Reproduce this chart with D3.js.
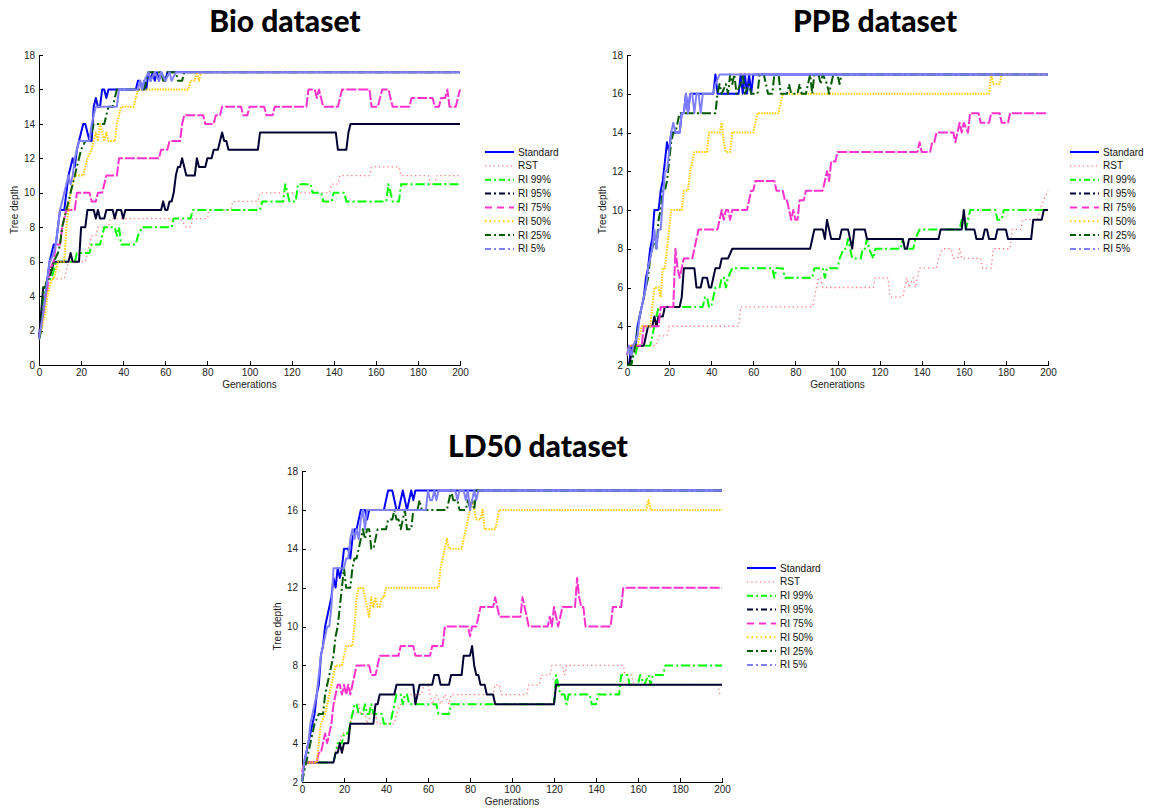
<!DOCTYPE html>
<html>
<head>
<meta charset="utf-8">
<script src="https://cdn.jsdelivr.net/npm/d3@7/dist/d3.min.js"></script>
<style>
  html, body { margin: 0; padding: 0; background: #ffffff; }
  svg { display: block; }
  .tick text { font-family: "Liberation Sans", Arial, sans-serif; font-size: 10px; fill: #222; }
  .axis path, .axis line { stroke: #000; stroke-width: 1; shape-rendering: crispEdges; }
  .axis-title { font-family: "Liberation Sans", Arial, sans-serif; font-size: 10px; fill: #222; }
  .panel-title { font-family: Lato, "Open Sans", sans-serif; font-weight: 900; font-size: 30px; fill: #000; }
  .legend text { font-family: "Liberation Sans", Arial, sans-serif; font-size: 10px; fill: #111; }
</style>
</head>
<body>
<svg id="chart" width="1151" height="809"></svg>
<script>
// ---- Series labels and axis ticks ----
const seriesNames = ["Standard", "RST", "RI 99%", "RI 95%", "RI 75%", "RI 50%", "RI 25%", "RI 5%"];
const generationTicks = [0, 20, 40, 60, 80, 100, 120, 140, 160, 180, 200];
const bioDepthTicks = [0, 2, 4, 6, 8, 10, 12, 14, 16, 18];
const depthTicks = [2, 4, 6, 8, 10, 12, 14, 16, 18];

// ---- Bio dataset: [generation, tree depth] ----
const bioStandard = [[0,1.5],[1,2.5],[2,3],[3,4],[4,5],[5,6],[6,6.5],[7,7],[8,7],[9,8],[10,9],[12,9],[13,10],[14,11],[15,11.5],[16,12],[17,11.5],[18,12.5],[19,13],[21,14],[22,14],[23,13.5],[24,13],[25,13],[26,15],[27,15.5],[28,15],[29,15],[30,16],[31,16],[32,15.5],[33,16],[46,16],[47,16.5],[48,16.5],[49,16],[50,16.5],[51,16],[52,17],[53,16.5],[54,17],[55,16.5],[56,17],[57,16.5],[58,17],[60,16.5],[61,17],[200,17]];
const bioRST = [[0,1.5],[2,3],[3,4],[4,4.5],[5,5],[6,5.5],[7,5],[12,5],[13,5.5],[14,6],[22,6],[23,6.5],[24,7],[25,7.5],[27,7.5],[28,8],[33,8],[34,8.5],[67,8.5],[70,8],[72,8],[73,8.5],[80,8.5],[81,9],[91,9],[92,9.5],[104,9.5],[105,10],[138,10],[139,10.5],[142,10.5],[143,11],[157,11],[158,11.5],[171,11.5],[172,11],[185,11],[186,10.5],[188,10.5],[189,11],[200,11]];
const bioRI99 = [[0,1.5],[1,2],[2,4],[3,4.5],[4,5],[6,5],[7,5.5],[8,6],[17,6],[18,6.5],[24,6.5],[25,7],[29,7],[30,7.5],[31,8],[36,8],[37,7.5],[38,8],[39,7],[46,7],[47,7.5],[49,8],[63,8],[64,8.5],[72,8.5],[73,9],[105,9],[106,9.5],[116,9.5],[117,10.5],[118,10],[119,9.5],[122,9.5],[123,10.5],[129,10.5],[130,10],[134,10],[135,9.5],[139,9.5],[140,10],[145,10],[146,9.5],[165,9.5],[166,10.5],[167,10],[168,9.5],[171,9.5],[172,10.5],[200,10.5]];
const bioRI95 = [[0,1.5],[1,3],[2,4.5],[3,4.5],[4,5],[5,5.5],[6,5.5],[7,6],[14,6],[15,6.5],[16,6],[19,6],[20,8],[22,8],[23,9],[26,9],[27,8.5],[28,9],[29,8.5],[31,8.5],[32,9],[35,9],[36,8.5],[37,9],[39,9],[40,8.5],[41,9],[58,9],[59,9.5],[60,9],[61,9],[62,9.5],[63,9.5],[64,10],[65,11],[66,11.5],[67,11.5],[68,12],[69,11.5],[70,11],[74,11],[75,12],[76,11.5],[79,11.5],[80,12],[82,12],[83,12.5],[85,12.5],[86,13],[87,13.5],[88,13],[89,13],[90,12.5],[104,12.5],[105,13.5],[141,13.5],[142,12.5],[146,12.5],[147,13.5],[148,14],[200,14]];
const bioRI75 = [[0,1.5],[2,3],[4,4.5],[5,5.5],[7,6],[8,7],[10,7],[11,8],[12,8.5],[13,9],[17,9],[18,10],[24,10],[25,9.5],[27,9.5],[28,10],[30,10],[31,10.5],[32,11],[37,11],[38,12],[57,12],[58,12.5],[61,12.5],[62,13],[67,13],[68,14],[69,14.5],[78,14.5],[79,14],[83,14],[84,14.5],[86,14.5],[87,15],[96,15],[97,14.5],[99,14.5],[100,15],[107,15],[108,14.5],[111,14.5],[112,15],[127,15],[128,16],[131,16],[132,15.5],[133,16],[134,15.5],[135,15],[142,15],[144,16],[157,16],[158,15],[161,15],[163,16],[166,16],[168,15],[176,15],[177,15.5],[187,15.5],[188,15],[190,15],[191,15.5],[193,15.5],[194,16],[195,15],[198,15],[199,15.5],[200,16]];
const bioRI50 = [[0,1.5],[2,2.5],[3,3],[4,4],[5,4.5],[6,5],[7,5],[8,5.5],[9,6],[12,6],[13,8],[14,9],[15,10],[16,10.5],[17,11],[21,11],[22,11.5],[23,12],[25,12.5],[26,13],[27,13.5],[28,13],[29,14],[30,13.5],[31,13],[32,13.5],[33,13],[36,13],[37,14],[38,14.5],[39,15],[45,15],[46,15.5],[47,16],[71,16],[72,16.5],[74,16.5],[75,17],[76,16.5],[77,17],[200,17]];
const bioRI25 = [[0,1.5],[1,2],[2,4.5],[3,4.5],[4,5],[5,5],[6,5.5],[7,6],[9,6.5],[10,7],[11,8],[12,8.5],[13,9],[14,9.5],[15,10],[16,10.5],[18,11.5],[20,12.5],[22,13],[24,13],[25,13.5],[26,14],[31,14],[32,14.5],[33,15],[35,15],[36,15.5],[37,16],[50,16],[51,16.5],[52,17],[58,17],[59,16.5],[60,16.5],[61,17],[65,17],[66,16.5],[68,16.5],[69,17],[200,17]];
const bioRI5 = [[0,1.5],[2,3],[4,5],[5,6],[6,6.2],[7,6.5],[8,7],[10,9],[11,9.5],[12,10],[13,10.5],[14,11],[15,10.5],[16,11],[17,12],[18,12.5],[19,13],[24,13],[25,14],[26,14.5],[27,15],[37,15],[38,16],[47,16],[48,16.5],[49,16],[50,16.5],[52,17],[53,16.5],[55,17],[57,16.5],[58,17],[60,16.5],[62,17],[63,16.5],[65,17],[200,17]];

// ---- PPB dataset ----
const ppbStandard = [[0,2],[1,2],[2,3],[4,3],[5,4],[6,4.5],[7,5],[8,5.5],[9,6.5],[10,7],[11,8],[12,8.5],[13,10],[15,10],[16,11],[17,11.5],[18,12.5],[19,13.5],[20,13],[21,14],[25,14],[26,15],[27,15],[28,16],[29,15],[30,16],[41,16],[42,17],[43,16],[53,16],[54,17],[55,16],[56,17],[57,16],[58,17],[59,16],[60,17],[200,17]];
const ppbRST = [[0,2.5],[1,3],[14,3],[15,3.5],[19,3.5],[20,4],[53,4],[54,5],[88,5],[89,5.5],[90,6],[91,6.5],[92,6.5],[93,6],[117,6],[118,6.5],[124,6.5],[125,5.5],[131,5.5],[132,6],[133,6.5],[134,6],[136,6.5],[137,6],[138,6.5],[139,7],[147,7],[148,7.5],[150,8],[154,8],[155,7.5],[157,7.5],[158,8],[159,7.5],[168,7.5],[169,7],[173,7],[174,8],[182,8],[183,9],[187,9],[188,9.5],[195,9.5],[196,10],[198,10.5],[200,11]];
const ppbRI99 = [[0,2],[2,2],[3,2.5],[4,2.5],[5,3],[11,3],[12,3.5],[13,4],[14,4.5],[15,5],[36,5],[37,5.5],[38,5.5],[39,5],[40,5],[41,5.5],[42,6],[44,6],[45,6.5],[46,6.5],[47,6],[48,6.5],[50,7],[69,7],[70,6.5],[71,7],[74,7],[75,6.5],[88,6.5],[89,7],[93,7],[94,6.5],[95,7],[100,7],[101,7.5],[103,8],[104,8],[105,8.5],[106,8],[107,7.5],[111,7.5],[112,8],[113,8],[114,8.5],[115,8],[117,7.5],[118,8],[130,8],[131,8.5],[132,8],[136,8],[137,8.5],[139,9],[158,9],[159,9.5],[160,9.5],[161,9],[162,9.5],[163,10],[175,10],[176,9.5],[178,9.5],[179,10],[200,10]];
const ppbRI95 = [[0,2],[1,2],[2,2.5],[3,3],[8,3],[9,3.5],[10,4],[12,4],[13,4.5],[14,4],[15,4.5],[17,4.5],[18,5],[25,5],[26,5.5],[27,7],[32,7],[33,6],[35,6],[36,6.5],[38,6.5],[39,6],[40,6],[41,6.5],[42,7],[44,7],[45,7.5],[48,7.5],[50,8],[87,8],[88,8.5],[89,9],[93,9],[94,8.5],[95,9.5],[96,9],[97,8.5],[101,8.5],[102,9],[105,9],[107,8],[108,9],[113,9],[114,8.5],[131,8.5],[132,8],[133,8],[134,8.5],[148,8.5],[149,9],[159,9],[160,10],[161,9],[165,9],[166,8.5],[169,8.5],[170,9],[171,9],[172,8.5],[175,8.5],[176,9],[180,9],[181,8.5],[192,8.5],[193,9.5],[197,9.5],[198,10],[200,10]];
const ppbRI75 = [[0,2.5],[1,3],[7,3],[8,4],[15,4],[16,5],[22,5],[23,8],[24,7],[25,6.5],[26,7],[27,7.5],[31,7.5],[32,8],[33,8.5],[34,9],[43,9],[44,9.5],[45,10],[46,9.5],[47,10],[48,10],[49,9.5],[50,10],[57,10],[58,10.5],[59,11],[60,11],[61,11.5],[70,11.5],[71,11],[74,11],[75,10.5],[76,10.5],[77,10],[78,9.5],[79,10],[80,9.5],[81,9.5],[82,10.5],[84,10.5],[85,11],[93,11],[94,11.5],[95,12],[96,11.5],[97,12.5],[99,12.5],[100,13],[138,13],[139,13.5],[140,13],[144,13],[145,13.5],[146,13.5],[147,14],[155,14],[156,13.5],[157,14],[158,14.5],[159,14],[160,14.5],[162,14],[163,15],[167,15],[168,14.5],[172,14.5],[173,15],[177,15],[178,14.5],[181,14.5],[182,15],[200,15]];
const ppbRI50 = [[0,2.5],[1,3],[5,3],[6,3.5],[7,4],[11,4],[12,5],[13,6],[15,6],[16,5.5],[17,7],[18,7],[19,8],[20,9],[21,10],[26,10],[27,11],[29,11],[30,12],[31,12.5],[32,13],[38,13],[39,14],[44,14],[45,14.5],[46,13.5],[47,13],[49,13],[50,14],[60,14],[61,14.5],[62,15],[72,15],[73,15.5],[74,16],[172,16],[173,17],[174,16.5],[177,16.5],[178,17],[200,17]];
const ppbRI25 = [[0,2],[2,2],[3,2.5],[4,3],[6,4.5],[8,5.5],[9,6],[10,6.5],[11,7.5],[12,8],[13,8.5],[14,8],[15,9.5],[16,10],[17,11],[18,11],[19,11.5],[20,12.5],[21,13.5],[22,14],[23,14],[24,14.5],[25,15],[42,15],[43,16],[44,16.5],[45,16],[47,16.5],[48,16],[49,17],[50,16.5],[51,17],[52,16],[54,16.5],[55,17],[56,16],[58,16.5],[59,16],[62,16],[63,17],[65,17],[66,16.5],[67,16],[69,16],[70,17],[72,17],[73,16],[76,16],[77,16.5],[78,16],[81,16],[82,16.5],[83,16],[85,16],[86,16.5],[87,17],[88,16],[89,17],[91,17],[92,16.5],[93,17],[95,16.5],[96,16],[97,16.5],[98,17],[100,17],[101,16.5],[102,17],[200,17]];
const ppbRI5 = [[0,2.5],[1,3],[2,2.5],[3,3],[5,3.5],[6,4.5],[7,5],[9,6],[10,7],[11,7.5],[12,8],[13,9],[14,8],[15,9],[16,9],[17,10.5],[18,12],[19,12],[20,13],[21,14],[22,14.5],[23,14],[25,14],[26,15],[27,15],[28,16],[29,15],[30,16],[31,16],[32,15],[33,16],[34,16],[35,15],[36,16],[41,16],[42,16.5],[44,17],[200,17]];

// ---- LD50 dataset ----
const ld50Standard = [[0,2],[1,3],[2,3.5],[3,4],[4,4.5],[5,5],[6,5.5],[7,6.5],[8,7],[9,8.5],[10,9],[11,10],[12,10.5],[13,11],[14,11.5],[15,12.5],[16,12],[17,13],[18,12.5],[19,13],[20,14],[22,14],[23,13.5],[24,14.5],[25,15],[26,15],[27,15.5],[28,16],[30,16],[31,15.5],[32,16],[39,16],[40,16.5],[41,17],[43,17],[44,16.5],[45,16],[46,16],[47,16.5],[48,17],[49,16.5],[50,16],[51,16.5],[52,17],[53,16.5],[54,17],[200,17]];
const ld50RST = [[0,2],[1,3],[15,3],[16,3.5],[17,4],[18,4],[19,4.5],[22,4.5],[23,5],[24,5.5],[26,5.5],[27,6],[28,5.5],[30,5.5],[31,5],[33,5.5],[35,5.5],[36,5],[44,5],[45,5.5],[47,6],[49,6.5],[57,6.5],[58,7],[60,7],[61,6.5],[62,6],[64,6.5],[66,6],[68,6.5],[70,6],[71,6.5],[91,6.5],[92,7],[94,7],[95,6.5],[107,6.5],[108,7],[113,7],[114,7.5],[118,7.5],[119,8],[124,8],[125,7.5],[126,8],[153,8],[154,7.5],[157,7.5],[158,7],[198,7],[199,6.5],[200,6.5]];
const ld50RI99 = [[0,2],[1,3],[15,3],[16,3.5],[17,4],[19,4],[20,4.5],[22,4.5],[23,5],[24,5.5],[25,6],[26,6],[27,5.5],[29,5.5],[30,6],[31,5.5],[32,5.5],[33,6],[34,5.5],[38,5.5],[39,5],[42,5],[43,5.5],[44,6],[45,6.5],[47,6.5],[48,6],[49,6.5],[50,6.5],[51,6],[64,6],[65,5.5],[70,5.5],[71,6],[120,6],[121,7.5],[122,7],[123,6.5],[125,6.5],[126,6],[127,6.5],[137,6.5],[138,6],[140,6],[141,6.5],[151,6.5],[152,7.5],[155,7.5],[156,7],[160,7],[161,7.5],[163,7],[165,7.5],[166,7],[167,7.5],[172,7.5],[173,8],[200,8]];
const ld50RI95 = [[0,2],[1,3],[15,3],[16,3.5],[17,3.5],[18,4],[19,3.5],[20,4],[22,4],[23,5],[34,5],[35,6],[36,6],[37,6.5],[44,6.5],[45,7],[53,7],[54,6],[55,6.5],[56,7],[62,7],[63,7.5],[65,7.5],[66,7],[70,7],[71,7.5],[76,7.5],[77,8.5],[80,8.5],[81,9],[82,8],[83,7.5],[84,7.5],[85,7],[87,7],[88,6.5],[91,6.5],[92,6],[120,6],[121,7],[200,7]];
const ld50RI75 = [[0,2.5],[1,3],[7,3],[8,3.5],[9,3.5],[10,4],[11,4.5],[12,4],[13,4.5],[14,5],[15,6],[16,6.5],[17,7],[18,7],[19,6.5],[20,7],[21,6.5],[22,7],[23,6.5],[24,7],[25,7.5],[26,8],[32,8],[33,7.5],[35,7.5],[36,8],[37,8.5],[46,8.5],[47,9],[53,9],[54,8.5],[61,8.5],[62,9],[67,9],[68,10],[79,10],[80,9.5],[81,10],[83,10],[84,10.5],[85,11],[91,11],[92,11.5],[93,11],[94,10.5],[104,10.5],[105,11.5],[106,11],[107,10.5],[108,10],[117,10],[118,10.5],[119,10],[120,11],[121,10.5],[122,10],[123,10.5],[124,11],[130,11],[131,12.5],[132,11.5],[133,11],[134,11],[135,10],[147,10],[148,11],[152,11],[153,12],[200,12]];
const ld50RI50 = [[0,2],[1,3],[7,3],[8,4],[9,5],[11,5.5],[12,6],[13,6.5],[14,7],[15,7.5],[16,8],[19,8],[20,8.5],[21,9],[24,9],[25,10],[26,11.5],[27,12],[29,12],[30,11.5],[31,11],[32,10.5],[33,11.5],[34,11],[35,11.5],[36,11],[37,11],[38,11.5],[39,11.5],[40,12],[65,12],[66,13],[67,13.5],[68,14],[69,14.5],[70,14],[76,14],[77,14.5],[78,15],[79,15.5],[80,16],[81,16.5],[82,16],[83,15.5],[85,15.5],[86,16],[87,15],[92,15],[93,15.5],[94,16],[164,16],[165,16.5],[166,16],[200,16]];
const ld50RI25 = [[0,2],[1,2.5],[2,3],[3,3.5],[4,4],[5,4.5],[6,5],[8,5.5],[10,5.5],[11,6.5],[12,7],[13,7.5],[14,8],[15,8.5],[16,9.5],[17,10],[18,11],[19,12],[20,13],[21,12],[23,12],[24,13],[25,13.5],[26,13.5],[27,14],[28,14.5],[29,15],[30,14.5],[31,15],[32,15],[33,14],[34,14],[35,14.5],[36,15],[40,15],[41,15.5],[43,15.5],[44,16],[45,15.5],[46,15.5],[47,15],[48,15.5],[49,16],[50,15],[52,15],[53,16],[55,16],[56,16.5],[57,16],[69,16],[70,16.5],[71,17],[72,16.5],[74,16.5],[75,16],[78,16],[79,16.5],[80,16],[81,16.5],[82,16],[83,17],[200,17]];
const ld50RI5 = [[0,2],[1,3],[2,3.5],[3,4],[4,5],[5,5.5],[6,6],[7,6.5],[8,7.5],[9,8.5],[10,9],[11,9.5],[12,10],[13,10],[14,11],[15,13],[20,13],[21,13.5],[22,13.5],[23,14.5],[24,15],[25,14.5],[26,15],[27,14.5],[28,15.5],[29,16],[30,15],[31,16],[59,16],[60,17],[61,16.5],[62,16.5],[63,17],[64,16.5],[65,17],[73,17],[74,16.5],[75,17],[77,17],[78,16.5],[79,17],[80,16],[81,16.5],[82,17],[83,16.5],[84,17],[200,17]];

// ---- Line appearance per series (plot stroke / legend stroke) ----
const seriesStyles = [
  { color: "#0000ff", width: 2,   dash: null,        legendDash: null },
  { color: "#ff7b7b", width: 1.3, dash: "1.3,3",     legendDash: "1.3,3" },
  { color: "#00ff00", width: 2,   dash: "9,3,2,3",   legendDash: "6,3,2,3" },
  { color: "#000033", width: 2,   dash: null,        legendDash: "6,3,2,3" },
  { color: "#ff33cc", width: 2,   dash: "10,2",      legendDash: "7,5" },
  { color: "#ffcc00", width: 2,   dash: "1.5,1.2",   legendDash: "1.5,3" },
  { color: "#005a00", width: 2,   dash: "9,3,2,3",   legendDash: "6,3,2,3" },
  { color: "#8080ff", width: 2,   dash: null,        legendDash: "6,3,2,3" }
];

const panels = [
  { title: "Bio dataset", titleX: 285, titleY: 32,
    x0: 39, x1: 460, yTop: 55, yBottom: 365, yDomain: [0, 18], yTicks: bioDepthTicks,
    legendX: 485, legendY: 152,
    series: [bioStandard, bioRST, bioRI99, bioRI95, bioRI75, bioRI50, bioRI25, bioRI5] },
  { title: "PPB dataset", titleX: 875, titleY: 32,
    x0: 627, x1: 1048, yTop: 55, yBottom: 365, yDomain: [2, 18], yTicks: depthTicks,
    legendX: 1070, legendY: 152,
    series: [ppbStandard, ppbRST, ppbRI99, ppbRI95, ppbRI75, ppbRI50, ppbRI25, ppbRI5] },
  { title: "LD50 dataset", titleX: 538, titleY: 457,
    x0: 302, x1: 722, yTop: 471, yBottom: 782, yDomain: [2, 18], yTicks: depthTicks,
    legendX: 747, legendY: 568,
    series: [ld50Standard, ld50RST, ld50RI99, ld50RI95, ld50RI75, ld50RI50, ld50RI25, ld50RI5] }
];

const svg = d3.select("#chart");

panels.forEach(p => {
  const g = svg.append("g");
  const x = d3.scaleLinear().domain([0, 200]).range([p.x0, p.x1]);
  const y = d3.scaleLinear().domain(p.yDomain).range([p.yBottom, p.yTop]);

  // title
  g.append("text").attr("class", "panel-title")
    .attr("x", p.titleX).attr("y", p.titleY)
    .attr("text-anchor", "middle").text(p.title);

  // axes with inward ticks
  g.append("g").attr("class", "axis")
    .attr("transform", `translate(0,${p.yBottom})`)
    .call(d3.axisBottom(x).tickValues(generationTicks).tickFormat(d3.format("d"))
      .tickSizeInner(-4).tickSizeOuter(0).tickPadding(4));
  g.append("g").attr("class", "axis")
    .attr("transform", `translate(${p.x0},0)`)
    .call(d3.axisLeft(y).tickValues(p.yTicks).tickFormat(d3.format("d"))
      .tickSizeInner(-4).tickSizeOuter(0).tickPadding(4));

  g.append("text").attr("class", "axis-title")
    .attr("x", (p.x0 + p.x1) / 2).attr("y", p.yBottom + 23)
    .attr("text-anchor", "middle").text("Generations");
  g.append("text").attr("class", "axis-title")
    .attr("transform", `translate(${p.x0 - 21},${(p.yTop + p.yBottom) / 2}) rotate(-90)`)
    .attr("text-anchor", "middle").text("Tree depth");

  // series lines
  const line = d3.line().x(d => x(d[0])).y(d => y(d[1]));
  p.series.forEach((data, i) => {
    const s = seriesStyles[i];
    g.append("path").datum(data)
      .attr("d", line)
      .attr("fill", "none")
      .attr("stroke", s.color)
      .attr("stroke-width", s.width)
      .attr("stroke-linejoin", "round")
      .attr("stroke-dasharray", s.dash);
  });

  // legend
  const lg = g.append("g").attr("class", "legend");
  seriesNames.forEach((name, i) => {
    const s = seriesStyles[i];
    const ly = p.legendY + i * 13.85;
    lg.append("line")
      .attr("x1", p.legendX).attr("x2", p.legendX + 29)
      .attr("y1", ly).attr("y2", ly)
      .attr("stroke", s.color).attr("stroke-width", s.width)
      .attr("stroke-dasharray", s.legendDash);
    lg.append("text").attr("x", p.legendX + 33).attr("y", ly + 3.5).text(name);
  });
});
</script>
</body>
</html>
